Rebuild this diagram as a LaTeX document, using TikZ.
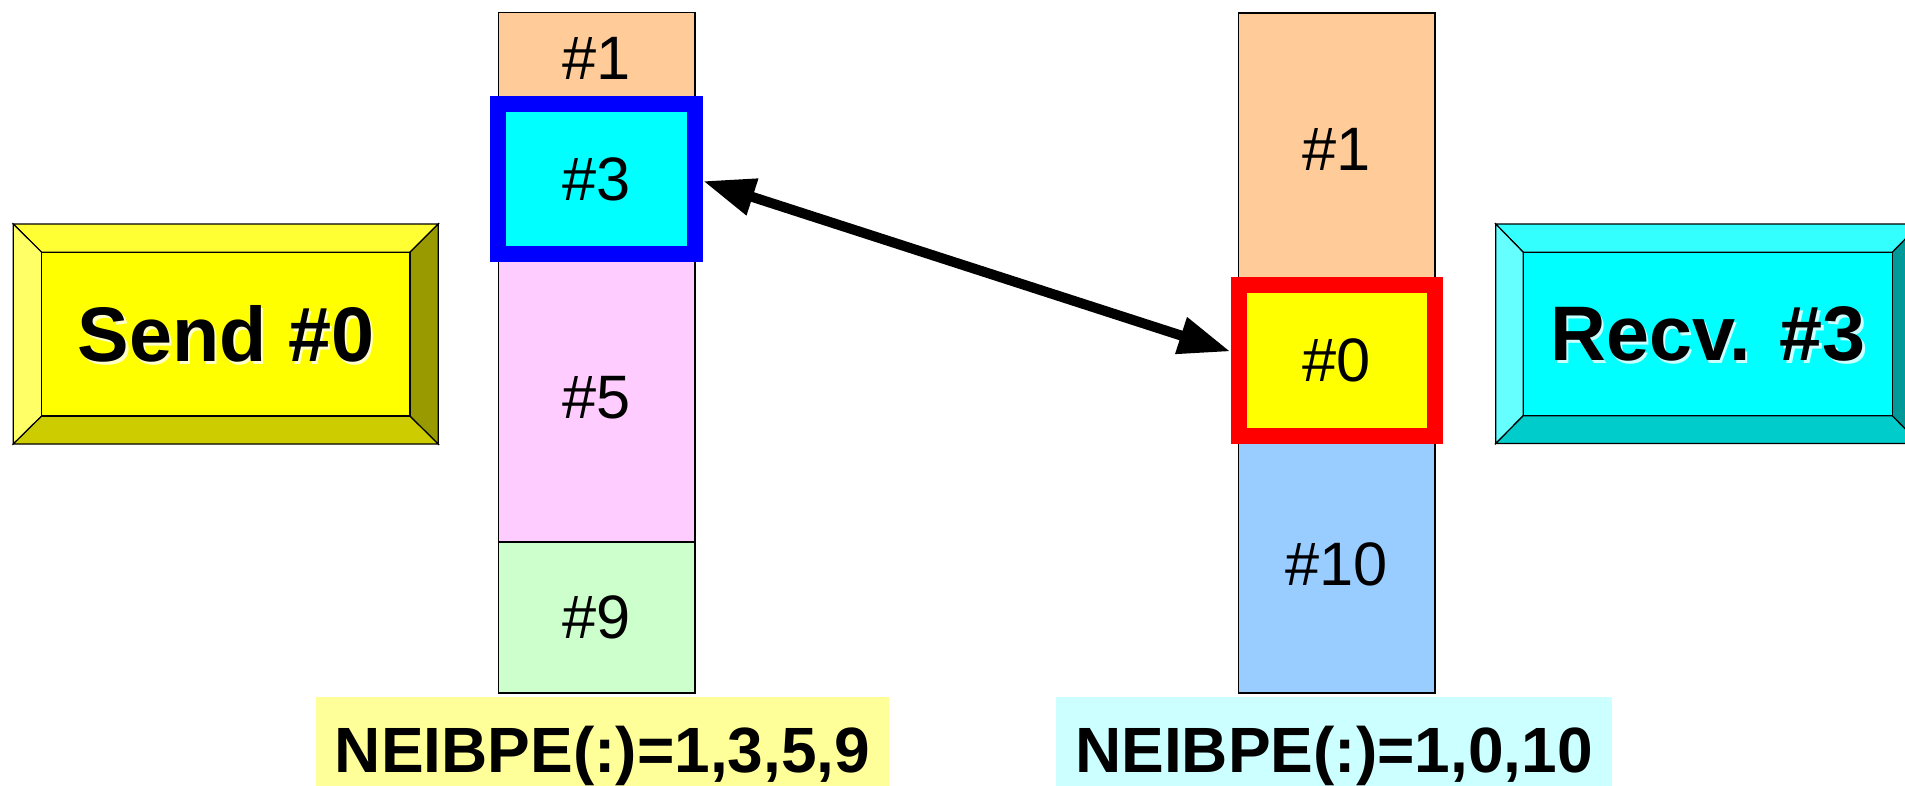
\documentclass[tikz,border=0pt]{standalone}
\usepackage{fontspec}
\setmainfont{Liberation Sans}
\usetikzlibrary{arrows.meta,calc}
\definecolor{cOrange}{HTML}{FFCC99}
\definecolor{cPink}{HTML}{FFCCFF}
\definecolor{cGreen}{HTML}{CCFFCC}
\definecolor{cBlueCell}{HTML}{99CCFF}
\definecolor{cLblY}{HTML}{FFFF99}
\definecolor{cLblC}{HTML}{CCFFFF}
\definecolor{hlCyan}{HTML}{00FFFF}
\definecolor{hlYellow}{HTML}{FFFF00}
\definecolor{hlBlue}{HTML}{0000FF}
\definecolor{hlRed}{HTML}{FF0000}
\definecolor{yFace}{HTML}{FFFF00}
\definecolor{yTop}{HTML}{FFFF33}
\definecolor{yLeft}{HTML}{FFFF66}
\definecolor{yBot}{HTML}{CCCC00}
\definecolor{yRight}{HTML}{999900}
\definecolor{yGlow}{HTML}{FFFFCC}
\definecolor{cFace}{HTML}{00FFFF}
\definecolor{cTop}{HTML}{33FFFF}
\definecolor{cLeft}{HTML}{66FFFF}
\definecolor{cBot}{HTML}{00CCCC}
\definecolor{cRight}{HTML}{009999}
\definecolor{cGlow}{HTML}{CCFFFF}
\begin{document}
\begin{tikzpicture}[x=0.75pt,y=-0.75pt,
  cell/.style={draw=black,line width=1.1pt,minimum width=147.4pt,inner sep=0pt,outer sep=0pt,
    font=\fontsize{46}{50}\selectfont},
  hlbox/.style={line width=12pt,outer sep=6pt},
  lbl/.style={inner sep=0pt,outer sep=0pt,minimum height=88.5pt,
    font=\bfseries\fontsize{48}{52}\selectfont},
  btntext/.style={inner sep=0pt,font=\bfseries\fontsize{58}{62}\selectfont},
  bev/.style={draw=black,line width=0.9pt,line join=miter},
  dblarrow/.style={line width=7.5pt,{Triangle[length=39pt,width=27pt]}-{Triangle[length=39pt,width=27pt]}}
]
\useasboundingbox (0,0) rectangle (1905,785);

% ---- Send button ----
\filldraw[bev,fill=yTop]   (13.3,224) -- (438.3,224) -- (410,252.3) -- (41.7,252.3) -- cycle;
\filldraw[bev,fill=yLeft]  (13.3,224) -- (41.7,252.3) -- (41.7,416) -- (13.3,444) -- cycle;
\filldraw[bev,fill=yBot]   (13.3,444) -- (41.7,416) -- (410,416) -- (438.3,444) -- cycle;
\filldraw[bev,fill=yRight] (438.3,224) -- (438.3,444) -- (410,416) -- (410,252.3) -- cycle;
\filldraw[bev,fill=yFace]  (41.7,252.3) rectangle (410,416);
\node[btntext,text=yGlow] (sendsh) at (228.3,336.5) {Send \#0};
\node[btntext] (send) at (225.8,334) {Send \#0};

% ---- Recv button ----
\filldraw[bev,fill=cTop]   (1495.7,224) -- (1920,224) -- (1892.3,252.3) -- (1523.3,252.3) -- cycle;
\filldraw[bev,fill=cLeft]  (1495.7,224) -- (1523.3,252.3) -- (1523.3,415.7) -- (1495.7,443.5) -- cycle;
\filldraw[bev,fill=cBot]   (1495.7,443.5) -- (1523.3,415.7) -- (1892.3,415.7) -- (1920,443.5) -- cycle;
\filldraw[bev,fill=cRight] (1920,224) -- (1920,443.5) -- (1892.3,415.7) -- (1892.3,252.3) -- cycle;
\filldraw[bev,fill=cFace]  (1523.3,252.3) rectangle (1892.3,415.7);
\node[btntext,text=cGlow] (recvsh) at (1710.5,336.5) {Recv. \#3};
\node[btntext] (recv) at (1708,334) {Recv. \#3};

% ---- left column ----
\node[cell,fill=cOrange,minimum height=68.5pt]  (l1) at (596.75,58.35) {\#1};
\node[cell,fill=cPink,minimum height=216pt]     (l5) at (596.75,398)   {\#5};
\node[cell,fill=cGreen,minimum height=113.25pt] (l9) at (596.75,617.5) {\raisebox{-4pt}{\#9}};
\node[cell,hlbox,draw=hlBlue,fill=hlCyan,minimum height=112.5pt] (l3) at (596.75,179) {\#3};

% ---- right column ----
\node[cell,fill=cOrange,minimum height=204pt]      (r1)  at (1336.75,149)   {\#1};
\node[cell,fill=cBlueCell,minimum height=192.75pt] (r10) at (1336.75,564.5) {\raisebox{-4pt}{\#10}};
\node[cell,hlbox,draw=hlRed,fill=hlYellow,minimum height=113.25pt] (r0) at (1336.75,360.5) {\raisebox{-2pt}{\#0}};

% ---- arrow ----
\draw[dblarrow] ($(l3.east)+(0,2)$) -- ($(r0.west)+(0,-9)$);

% ---- labels ----
\node[lbl,fill=cLblY,minimum width=429.75pt] (lblL) at (602.5,756) {NEIBPE(:)=1,3,5,9};
\node[lbl,fill=cLblC,minimum width=417pt]    (lblR) at (1334,756)  {NEIBPE(:)=1,0,10};
\end{tikzpicture}
\end{document}
